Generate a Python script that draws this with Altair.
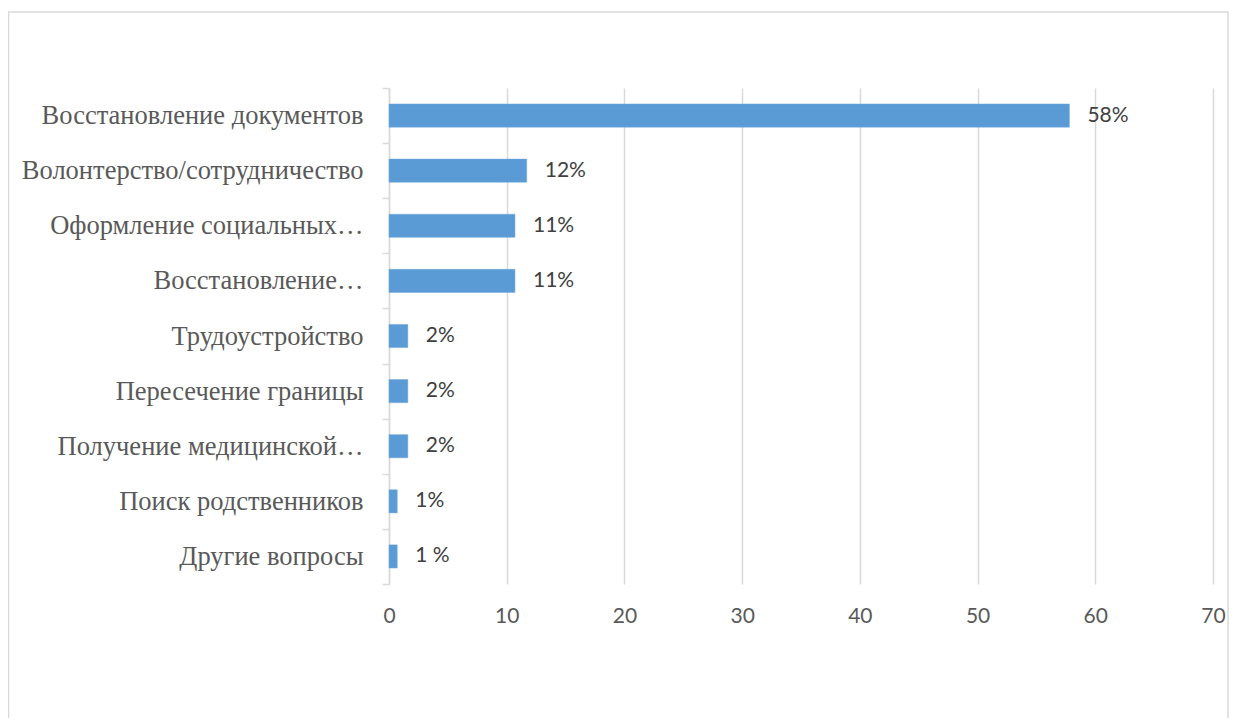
import altair as alt
import pandas as pd

categories = [
    "Восстановление документов",
    "Волонтерство/сотрудничество",
    "Оформление социальных…",
    "Восстановление…",
    "Трудоустройство",
    "Пересечение границы",
    "Получение медицинской…",
    "Поиск родственников",
    "Другие вопросы",
]
values = [57.8, 11.7, 10.7, 10.7, 1.6, 1.6, 1.6, 0.7, 0.7]
labels = ["58%", "12%", "11%", "11%", "2%", "2%", "2%", "1%", "1 %"]
x_ticks = [0, 10, 20, 30, 40, 50, 60, 70]

df = pd.DataFrame({"cat": categories, "val": values, "lab": labels})

W, H = 824, 496
GRID = "#d9d9d9"

y_enc = alt.Y(
    "cat:N",
    sort=categories,
    title=None,
    scale=alt.Scale(paddingInner=0, paddingOuter=0),
    axis=alt.Axis(
        tickBand="extent",
        domainColor=GRID,
        domainWidth=1.5,
        tickColor=GRID,
        tickWidth=1.5,
        tickSize=7,
        labelFont="Liberation Serif",
        labelFontSize=26.5,
        labelColor="#595959",
        labelPadding=19,
        labelLimit=400,
        grid=False,
    ),
)
x_enc = alt.X(
    "val:Q",
    title=None,
    scale=alt.Scale(domain=[0, 70], nice=False),
    axis=alt.Axis(
        values=x_ticks,
        domain=False,
        ticks=False,
        grid=True,
        gridColor=GRID,
        gridWidth=1.5,
        labelFont="Lato",
        labelFontSize=21,
        labelColor="#595959",
        labelPadding=21,
        labelFlush=False,
    ),
)

bars = alt.Chart(df).mark_bar(
    color="#5B9BD5", height=alt.RelativeBandSize(0.42), stroke="#6fa8dc", strokeWidth=0.5
).encode(y=y_enc, x=x_enc)

text = alt.Chart(df).mark_text(
    align="left", baseline="middle", dx=18, font="Lato", fontSize=21, color="#404040"
).encode(y=alt.Y("cat:N", sort=categories), x=alt.X("val:Q"), text="lab:N")

border = alt.Chart(pd.DataFrame({"a": [0]})).mark_rect(
    fill="transparent", stroke=GRID, strokeWidth=1.5
).encode(
    x=alt.value(-380.5), x2=alt.value(839), y=alt.value(-76), y2=alt.value(660)
)

chart = (
    alt.layer(border, bars, text)
    .properties(
        width=W,
        height=H,
        autosize=alt.AutoSizeParams(type="none"),
        padding={"left": 381, "top": 80, "right": 16, "bottom": 134},
        background="white",
    )
    .configure_view(stroke=None)
)

chart.save("out.html", embed_options={"renderer": "svg", "actions": False})
